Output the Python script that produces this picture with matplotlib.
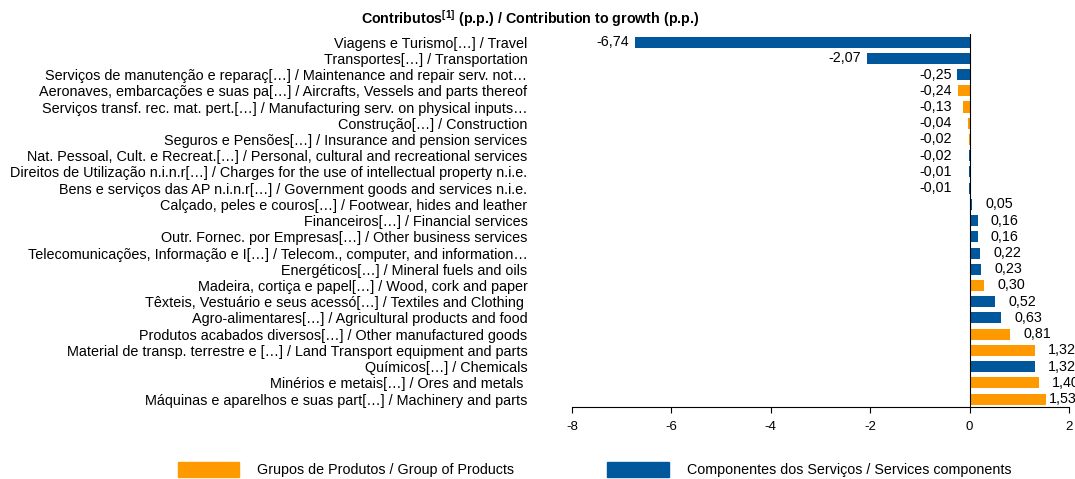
import matplotlib
matplotlib.use("Agg")
import matplotlib.pyplot as plt
from matplotlib.patches import Patch

plt.rcParams['font.family'] = ['Liberation Sans', 'DejaVu Sans']
plt.rcParams['mathtext.fontset'] = 'custom'
plt.rcParams['mathtext.bf'] = 'Liberation Sans:bold'
plt.rcParams['mathtext.rm'] = 'Liberation Sans:bold'

# categories top to bottom
labels = [
    "Viagens e Turismo[…] / Travel",
    "Transportes[…] / Transportation",
    "Serviços de manutenção e reparaç[…] / Maintenance and repair serv. not…",
    "Aeronaves, embarcações e suas pa[…] / Aircrafts, Vessels and parts thereof",
    "Serviços transf. rec. mat. pert.[…] / Manufacturing serv. on physical inputs…",
    "Construção[…] / Construction",
    "Seguros e Pensões[…] / Insurance and pension services",
    "Nat. Pessoal, Cult. e Recreat.[…] / Personal, cultural and recreational services",
    "Direitos de Utilização n.i.n.r[…] / Charges for the use of intellectual property n.i.e.",
    "Bens e serviços das AP n.i.n.r[…] / Government goods and services n.i.e.",
    "Calçado, peles e couros[…] / Footwear, hides and leather",
    "Financeiros[…] / Financial services",
    "Outr. Fornec. por Empresas[…] / Other business services",
    "Telecomunicações, Informação e I[…] / Telecom., computer, and information…",
    "Energéticos[…] / Mineral fuels and oils",
    "Madeira, cortiça e papel[…] / Wood, cork and paper",
    "Têxteis, Vestuário e seus acessó[…] / Textiles and Clothing ",
    "Agro-alimentares[…] / Agricultural products and food",
    "Produtos acabados diversos[…] / Other manufactured goods",
    "Material de transp. terrestre e […] / Land Transport equipment and parts",
    "Químicos[…] / Chemicals",
    "Minérios e metais[…] / Ores and metals ",
    "Máquinas e aparelhos e suas part[…] / Machinery and parts",
]
values = [-6.74, -2.07, -0.25, -0.24, -0.13, -0.04, -0.02, -0.02, -0.01, -0.01,
          0.05, 0.16, 0.16, 0.22, 0.23, 0.30, 0.52, 0.63, 0.81, 1.32, 1.32, 1.40, 1.53]
# "G" = Grupos de Produtos, "S" = Componentes dos Serviços
groups = ["S", "S", "S", "G", "G", "G", "G", "S", "S", "S",
          "S", "S", "S", "S", "S", "G", "S", "S", "G", "G", "S", "G", "G"]

ORANGE = "#FF9900"
BLUE = "#00579C"
colors = [ORANGE if g == "G" else BLUE for g in groups]

fig = plt.figure(figsize=(10.75, 4.79), dpi=100)
ax = fig.add_axes([0.532, 0.150, 0.4624, 0.779])

ypos = list(range(len(values)))
ax.barh(ypos, values, height=0.68, color=colors, edgecolor="none", zorder=2)
ax.axvline(0, color="black", lw=0.8, zorder=3)

vmax = max(values)
for y, v in zip(ypos, values):
    txt = f"{v:.2f}".replace(".", ",")
    if v < 0:
        # small negatives keep their label clear of the zero line
        ax.annotate(txt, (min(v, -0.25), y), xytext=(-4, 0), textcoords="offset points",
                    ha="right", va="center", fontsize=10.3)
    else:
        off = 2 if v == vmax else 9.5   # last one squeezed against the edge
        ax.annotate(txt, (v, y), xytext=(off, 0), textcoords="offset points",
                    ha="left", va="center", fontsize=10.3)

ax.set_xlim(-8, 2)
ax.set_ylim(len(values) - 0.5, -0.5)
ax.set_xticks([-8, -6, -4, -2, 0, 2])
ax.set_xticklabels(["-8", "-6", "-4", "-2", "0", "2"], fontsize=9.5)
ax.set_yticks(ypos)
ax.set_yticklabels(labels, fontsize=10.4)
ax.tick_params(axis="y", length=0, pad=32)
ax.tick_params(axis="x", length=4, width=0.8, direction="out", pad=6)
for s in ["left", "right", "top"]:
    ax.spines[s].set_visible(False)
ax.spines["bottom"].set_linewidth(0.8)

fig.text(0.493, 0.962, r"Contributos$^{[1]}$ (p.p.) / Contribution to growth (p.p.)",
         ha="center", va="center", fontsize=10.3, fontweight="bold")

handles = [Patch(color=ORANGE, label="Grupos de Produtos / Group of Products"),
           Patch(color=BLUE, label="Componentes dos Serviços / Services components")]
fig.legend(handles=handles, loc="center", bbox_to_anchor=(0.553, 0.019), ncol=2,
           frameon=False, fontsize=10.3, handlelength=4.3, handleheight=1.15,
           handletextpad=1.25, columnspacing=6.5)

fig.savefig("out.png", dpi=100)
